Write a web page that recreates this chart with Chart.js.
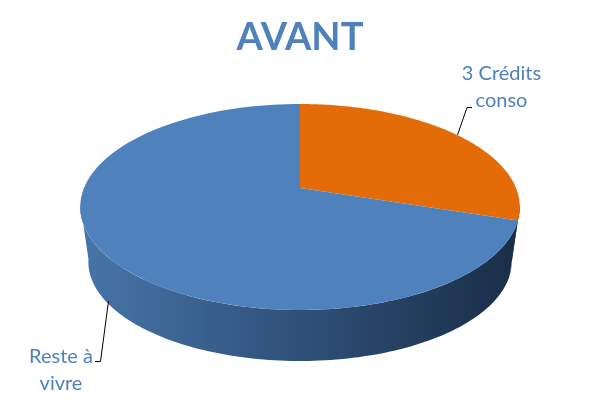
<!DOCTYPE html>
<html>
<head>
<meta charset="utf-8">
<style>
    html, body { margin: 0; padding: 0; background: #fff; }
    #wrap { width: 600px; height: 400px; }
</style>
<script src="https://cdn.jsdelivr.net/npm/chart.js@4"></script>
</head>
<body>
<div id="wrap"><canvas id="chart"></canvas></div>
<script>
const categories = ['3 Crédits conso', 'Reste à vivre'];
const shares = [30, 70];
const sliceColors = ['#E36C09', '#4F81BD'];
const labelLines = [['3 Crédits', 'conso'], ['Reste à', 'vivre']];
const titleText = 'AVANT';
const textColor = '#4F81BD';

// tilted disc seen in perspective: top face and the smaller bottom rim
const faces = {
    top: { cy: 188, scale: 1 },
    bottom: { cy: 243.5, scale: 0.963 }
};

function project(theta, r, face) {
    const u = r * Math.sin(theta);
    const v = -r * Math.cos(theta);
    const w = 1 - 0.1845 * v;
    return {
        x: 300 + face.scale * 216 * u / w,
        y: face.cy + face.scale * 99.5 * v / w
    };
}

function rimTo(ctx, from, to, face) {
    const steps = 120;
    for (let i = 0; i <= steps; i++) {
        const p = project(from + (to - from) * i / steps, 1, face);
        ctx.lineTo(p.x, p.y);
    }
}

const perspectivePie = {
    id: 'perspectivePie',
    beforeDatasetsDraw(chart) {
        const ctx = chart.ctx;
        const arcs = chart.getDatasetMeta(0).data;
        ctx.save();

        // side wall, only the part that faces the viewer
        const side = ctx.createLinearGradient(88, 0, 513, 0);
        side.addColorStop(0, '#4674A8');
        side.addColorStop(0.5, '#2F5078');
        side.addColorStop(1, '#1A2E48');
        arcs.forEach((arc) => {
            const start = Math.max(arc.startAngle + Math.PI / 2, Math.PI * 0.55);
            const end = Math.min(arc.endAngle + Math.PI / 2, Math.PI * 1.45);
            if (end <= start) return;
            ctx.beginPath();
            rimTo(ctx, start, end, faces.top);
            rimTo(ctx, end, start, faces.bottom);
            ctx.closePath();
            ctx.fillStyle = side;
            ctx.fill();
        });

        // top face
        arcs.forEach((arc, i) => {
            const centre = project(0, 0, faces.top);
            ctx.beginPath();
            ctx.moveTo(centre.x, centre.y);
            rimTo(ctx, arc.startAngle + Math.PI / 2, arc.endAngle + Math.PI / 2, faces.top);
            ctx.closePath();
            ctx.fillStyle = sliceColors[i];
            ctx.fill();
        });

        ctx.restore();
        return false;
    },
    afterDraw(chart) {
        const ctx = chart.ctx;
        ctx.save();

        // leader lines
        ctx.strokeStyle = '#000';
        ctx.lineWidth = 1;
        ctx.beginPath();
        ctx.moveTo(457.5, 135);
        ctx.lineTo(467, 107.5);
        ctx.lineTo(472, 107.5);
        ctx.moveTo(108.5, 301);
        ctx.lineTo(100.5, 361.5);
        ctx.lineTo(95, 361.5);
        ctx.stroke();

        ctx.fillStyle = textColor;
        ctx.font = '20px Lato';
        ctx.textAlign = 'center';
        ctx.textBaseline = 'alphabetic';
        const anchors = [[501.5, 80], [61, 363]];
        labelLines.forEach((lines, i) => {
            lines.forEach((line, j) => {
                ctx.fillText(line, anchors[i][0], anchors[i][1] + j * 27);
            });
        });
        ctx.restore();
    }
};

new Chart(document.getElementById('chart'), {
    type: 'pie',
    data: {
        labels: categories,
        datasets: [{ data: shares, backgroundColor: sliceColors, borderWidth: 0 }]
    },
    options: {
        responsive: true,
        maintainAspectRatio: false,
        animation: false,
        plugins: {
            legend: { display: false },
            tooltip: { enabled: false },
            title: {
                display: true,
                text: titleText,
                color: textColor,
                font: { family: 'Lato', size: 38, weight: 'bold' },
                padding: { top: 15, bottom: 0 }
            }
        }
    },
    plugins: [perspectivePie]
});
</script>
</body>
</html>
